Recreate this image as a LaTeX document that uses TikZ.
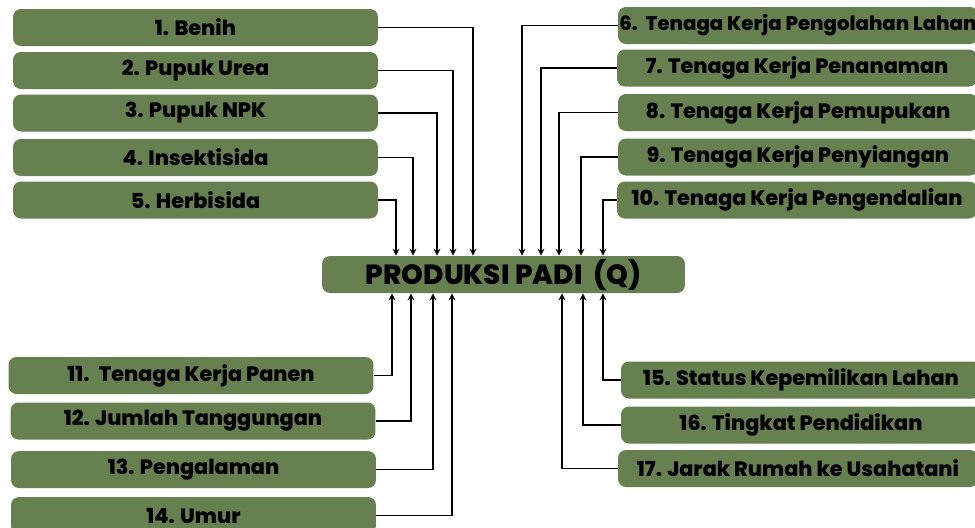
\documentclass[tikz,border=0pt]{standalone}
\usepackage{fontspec}
\setmainfont{Poppins}[BoldFont={Poppins ExtraBold}]
\usetikzlibrary{arrows.meta}
\definecolor{padigreen}{RGB}{102,128,80}

\begin{document}
\begin{tikzpicture}[x=0.02cm,y=-0.02cm]
  \tikzset{faktor/.style = {shape=rectangle,rounded corners=4.5pt,fill=padigreen,minimum width=7.3cm,minimum height=0.74cm,inner sep=0pt,font=\bfseries\fontsize{11.8}{13}\selectfont}}
  \tikzset{faktorkanan/.style = {faktor,minimum width=7.2cm}}
  \tikzset{hasil/.style = {faktor,minimum width=7.26cm,font=\bfseries\fontsize{15.8}{18}\selectfont}}
  \tikzset{panah/.style = {-{Stealth[length=4pt,width=4pt]},line width=0.7pt}}
  \useasboundingbox (0,0) rectangle (975,528);

	\node[hasil] (q) at (503.5,274.5) {PRODUKSI PADI~ (Q)};

	% input kiri atas
	\node[faktor] (b1) at (195.5,27.5) {1. Benih};
	\node[faktor] (b2) at (195.5,70.5) {2. Pupuk Urea};
	\node[faktor] (b3) at (195.5,113) {3. Pupuk NPK};
	\node[faktor] (b4) at (195.5,157.5) {4. Insektisida};
	\node[faktor] (b5) at (195.5,200) {5. Herbisida};

	% tenaga kerja kanan atas
	\node[faktorkanan] (b6) at (798,25.5) {\fontsize{11.2}{13}\selectfont 6.\hspace{0.4em}Tenaga Kerja Pengolahan Lahan};
	\node[faktorkanan] (b7) at (797,68) {7. Tenaga Kerja Penanaman};
	\node[faktorkanan] (b8) at (798,112.5) {8. Tenaga Kerja Pemupukan};
	\node[faktorkanan] (b9) at (798,157) {9. Tenaga Kerja Penyiangan};
	\node[faktorkanan] (b10) at (797,200) {10. Tenaga Kerja Pengendalian};

	% kiri bawah
	\node[faktor] (b11) at (191,375.5) {11.~ Tenaga Kerja Panen};
	\node[faktor] (b12) at (193,421) {12. Jumlah Tanggungan};
	\node[faktor] (b13) at (193.5,469.5) {13. Pengalaman};
	\node[faktor] (b14) at (193.5,515.5) {14. Umur};

	% kanan bawah
	\node[faktorkanan] (b15) at (801,380) {15. Status Kepemilikan Lahan};
	\node[faktorkanan] (b16) at (801,425) {16. Tingkat Pendidikan};
	\node[faktorkanan] (b17) at (798,468.5) {17. Jarak Rumah ke Usahatani};

    \foreach \from/\x in {b1/473,b2/453,b3/437,b4/413,b5/396}
    \draw[panah] (\from.east) -| (\x,0 |- q.north);
    \foreach \from/\x in {b6/522,b7/541,b8/559,b9/581,b10/603}
    \draw[panah] (\from.west) -| (\x,0 |- q.north);
    \foreach \from/\x in {b11/392,b12/411,b13/433,b14/452}
    \draw[panah] (\from.east) -| (\x,0 |- q.south);
    \foreach \from/\x in {b15/603,b16/583,b17/562}
    \draw[panah] (\from.west) -| (\x,0 |- q.south);

\end{tikzpicture}
\end{document}
